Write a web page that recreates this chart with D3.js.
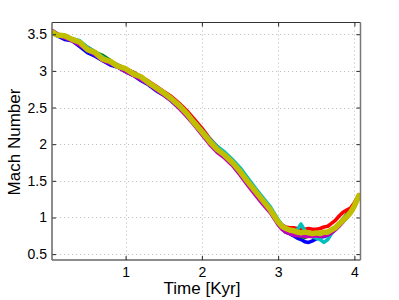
<!DOCTYPE html>
<html>
<head>
<meta charset="utf-8">
<script src="https://cdn.jsdelivr.net/npm/d3@7"></script>
<style>
  html, body { margin: 0; padding: 0; background: #fff; }
  svg { display: block; }
  text { font-family: "Liberation Sans", Arial, Helvetica, sans-serif; fill: #000; }
</style>
</head>
<body>
<svg id="chart" width="399" height="300"></svg>
<script>
// ---- data ----
const times = [0.04,0.1,0.2,0.3,0.4,0.5,0.6,0.7,0.8,0.9,
  1.0,1.1,1.2,1.3,1.4,1.5,1.6,1.7,1.8,1.9,
  2.0,2.1,2.2,2.3,2.4,2.5,2.6,2.7,2.8,2.9,
  3.0,3.05,3.1,3.15,3.2,3.25,3.3,3.35,3.4,3.45,
  3.5,3.55,3.6,3.65,3.7,3.75,3.8,3.85,3.9,3.95,
  4.0,4.06];

const blueRun = [3.51,3.48,3.43,3.41,3.33,3.25,3.20,3.14,3.08,3.05,
  2.99,2.94,2.87,2.81,2.73,2.67,2.59,2.50,2.39,2.27,
  2.15,2.02,1.92,1.83,1.74,1.62,1.48,1.35,1.22,1.09,
  0.92,0.85,0.80,0.78,0.75,0.72,0.70,0.67,0.66,0.68,
  0.71,0.73,0.74,0.76,0.80,0.84,0.89,0.94,1.00,1.06,
  1.15,1.29];
const greenRun = [3.51,3.49,3.48,3.43,3.39,3.32,3.25,3.21,3.14,3.06,
  3.01,2.98,2.92,2.83,2.77,2.70,2.63,2.54,2.43,2.30,
  2.18,2.05,1.94,1.86,1.76,1.64,1.50,1.37,1.24,1.11,
  0.93,0.87,0.83,0.80,0.78,0.76,0.74,0.73,0.75,0.74,
  0.72,0.73,0.76,0.78,0.82,0.86,0.92,0.98,1.04,1.10,
  1.19,1.31];
const redRun = [3.53,3.49,3.46,3.42,3.39,3.32,3.26,3.18,3.13,3.08,
  3.03,2.98,2.92,2.86,2.79,2.72,2.65,2.56,2.46,2.34,
  2.22,2.08,1.97,1.87,1.77,1.65,1.50,1.37,1.24,1.10,
  0.95,0.90,0.87,0.86,0.86,0.85,0.84,0.84,0.85,0.84,
  0.84,0.85,0.87,0.88,0.92,0.96,1.02,1.07,1.10,1.13,
  1.20,1.31];
const cyanRun = [3.52,3.50,3.47,3.44,3.41,3.32,3.26,3.19,3.12,3.08,
  3.02,2.97,2.91,2.85,2.78,2.71,2.63,2.54,2.43,2.31,
  2.19,2.07,1.97,1.89,1.79,1.68,1.54,1.40,1.27,1.14,
  0.97,0.90,0.86,0.83,0.80,0.83,0.91,0.82,0.76,0.74,
  0.72,0.70,0.66,0.70,0.78,0.84,0.89,0.95,1.01,1.07,
  1.16,1.30];
const magentaRun = [3.55,3.51,3.45,3.41,3.35,3.28,3.22,3.14,3.10,3.05,
  2.99,2.94,2.88,2.82,2.74,2.67,2.59,2.49,2.38,2.26,
  2.13,2.00,1.89,1.81,1.71,1.58,1.44,1.31,1.18,1.06,
  0.90,0.84,0.80,0.78,0.76,0.75,0.75,0.74,0.74,0.74,
  0.75,0.74,0.75,0.76,0.79,0.83,0.88,0.94,1.00,1.06,
  1.15,1.29];
const yellowRun = [3.53,3.49,3.48,3.43,3.39,3.29,3.25,3.16,3.13,3.06,
  3.03,2.96,2.92,2.84,2.77,2.70,2.62,2.53,2.42,2.29,
  2.17,2.04,1.93,1.85,1.75,1.63,1.49,1.36,1.23,1.10,
  0.94,0.88,0.85,0.83,0.82,0.80,0.79,0.80,0.79,0.78,
  0.79,0.78,0.80,0.80,0.83,0.86,0.91,0.96,1.01,1.07,
  1.16,1.30];

const seriesNames = ["blue","green","red","cyan","magenta","yellow"];
const seriesValues = [blueRun, greenRun, redRun, cyanRun, magentaRun, yellowRun];
const seriesColors = ["#0000ff","#008000","#ff0000","#00bfbf","#bf00bf","#bfbf00"];

const xTicks = [1, 2, 3, 4];
const yTicks = [0.5, 1, 1.5, 2, 2.5, 3, 3.5];
const xTickLabels = ["1","2","3","4"];
const yTickLabels = ["0.5","1","1.5","2","2.5","3","3.5"];
const xTitle = "Time [Kyr]";
const yTitle = "Mach Number";

// ---- layout ----
const L = 52, R = 360.5, T = 22.5, B = 260;
const svg = d3.select("#chart");
const x = d3.scaleLinear().domain([0.035, 4.08]).range([L, R]);
const y = d3.scaleLinear().domain([0.42, 3.66]).range([B, T]);

// grid
const grid = svg.append("g").attr("stroke", "#c4c4c4").attr("stroke-width", 1)
  .attr("stroke-dasharray", "1.2,2.8");
grid.selectAll("line.gx").data(xTicks).join("line")
  .attr("x1", d => Math.round(x(d)) + 0.5).attr("x2", d => Math.round(x(d)) + 0.5)
  .attr("y1", T).attr("y2", B);
grid.selectAll("line.gy").data(yTicks).join("line")
  .attr("y1", d => Math.round(y(d)) + 0.5).attr("y2", d => Math.round(y(d)) + 0.5)
  .attr("x1", L).attr("x2", R);

// lines
svg.append("defs").append("clipPath").attr("id", "clip")
  .append("rect").attr("x", L).attr("y", T).attr("width", R - L).attr("height", B - T);

const line = d3.line().x((d, i) => x(times[i])).y(d => y(d));
const lines = svg.append("g").attr("clip-path", "url(#clip)");
seriesValues.forEach((vals, k) => {
  lines.append("path")
    .datum(vals)
    .attr("fill", "none")
    .attr("stroke", seriesColors[k])
    .attr("stroke-width", seriesNames[k] === "yellow" ? 5.5 : 3.6)
    .attr("stroke-linejoin", "round")
    .attr("stroke-linecap", "round")
    .attr("d", line);
});

// axes
const fmtX = (d, i) => xTickLabels[i];
const fmtY = (d, i) => yTickLabels[i];

const gx = svg.append("g").attr("transform", `translate(0,${B})`)
  .call(d3.axisBottom(x).tickValues(xTicks).tickFormat(fmtX).tickSize(-4).tickSizeOuter(0).tickPadding(7));
const gy = svg.append("g").attr("transform", `translate(${L},0)`)
  .call(d3.axisLeft(y).tickValues(yTicks).tickFormat(fmtY).tickSize(-4).tickSizeOuter(0).tickPadding(5));
const gt = svg.append("g").attr("transform", `translate(0,${T})`)
  .call(d3.axisTop(x).tickValues(xTicks).tickFormat("").tickSize(-4).tickSizeOuter(0));
const gr = svg.append("g").attr("transform", `translate(${R},0)`)
  .call(d3.axisRight(y).tickValues(yTicks).tickFormat("").tickSize(-4).tickSizeOuter(0));

[gx, gy, gt, gr].forEach(g => {
  g.selectAll("path.domain").remove();
  g.selectAll(".tick line").attr("stroke", "#262626");
  g.selectAll(".tick text")
    .attr("font-family", '"Liberation Sans", Arial, Helvetica, sans-serif')
    .attr("font-size", 14).attr("fill", "#000");
});

// box
svg.append("line").attr("x1", L).attr("x2", R).attr("y1", B).attr("y2", B).attr("stroke", "#1a1a1a").attr("stroke-width", 1.2);
svg.append("line").attr("x1", L).attr("x2", R).attr("y1", T).attr("y2", T).attr("stroke", "#333").attr("stroke-width", 1.2);
svg.append("line").attr("x1", L).attr("x2", L).attr("y1", T).attr("y2", B).attr("stroke", "#666").attr("stroke-width", 1.5);
svg.append("line").attr("x1", R).attr("x2", R).attr("y1", T).attr("y2", B).attr("stroke", "#777").attr("stroke-width", 1.5);

// titles
svg.append("text").attr("x", 202).attr("y", 294).attr("text-anchor", "middle")
  .attr("font-size", 17).text(xTitle);
svg.append("text").attr("transform", "translate(20,142) rotate(-90)").attr("text-anchor", "middle")
  .attr("font-size", 17).text(yTitle);
</script>
</body>
</html>
